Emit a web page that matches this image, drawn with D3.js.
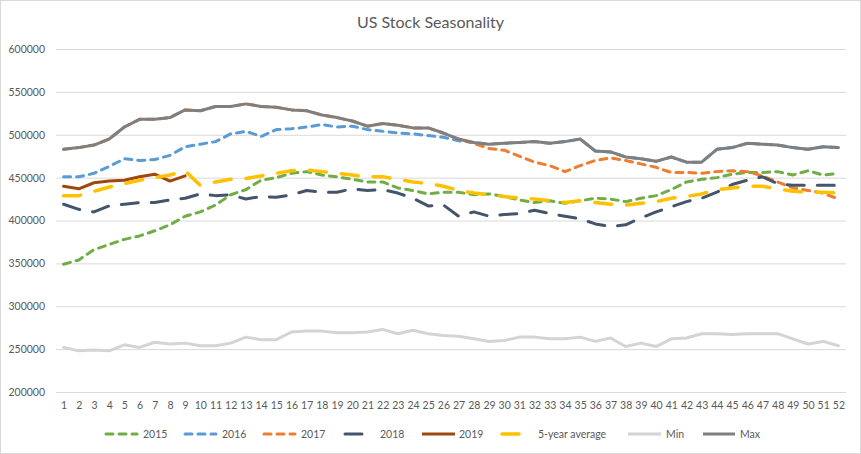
<!DOCTYPE html>
<html><head><meta charset="utf-8">
<script src="https://cdn.jsdelivr.net/npm/d3@7"></script>
<style>
html,body{margin:0;padding:0;background:#fff;}
svg{display:block;font-family:Lato,"Open Sans",sans-serif;}
</style></head>
<body>
<script>
const weeks = [1,2,3,4,5,6,7,8,9,10,11,12,13,14,15,16,17,18,19,20,21,22,23,24,25,26,27,28,29,30,31,32,33,34,35,36,37,38,39,40,41,42,43,44,45,46,47,48,49,50,51,52];
const yTicks = [200000,250000,300000,350000,400000,450000,500000,550000,600000];

const s2015 = [349000,354000,366000,372000,378000,382000,388000,395000,405000,410000,418000,430000,436000,447000,450000,455000,457000,453000,451000,448000,445000,445000,438000,435000,431000,433000,433000,430000,431000,428000,424000,421000,423000,420000,423000,426000,425000,422000,426000,429000,436000,445000,448000,450000,454000,456000,456000,457000,453000,458000,453000,455000];
const s2016 = [451000,451000,455000,463000,472000,470000,471000,476000,486000,489000,492000,501000,504000,498000,506000,507000,509000,512000,509000,510000,506000,504000,502000,501000,499000,497000,493000,491000,489000,490000,491000,492000,490000,492000,495000,481000,480000,474000,472000,469000,474000,468000,468000,483000,485000,490000,489000,488000,485000,483000,486000,485000];
const s2017 = [483000,485000,488000,495000,509000,518000,518000,520000,529000,528000,533000,533000,536000,533000,532000,529000,528000,523000,520000,516000,510000,513000,511000,508000,508000,502000,495000,490000,484000,482000,475000,468000,464000,457000,464000,470000,473000,470000,466000,462000,456000,456000,455000,457000,458000,457000,452000,445000,438000,435000,432000,425000];
const s2018 = [419000,413000,410000,417000,419000,421000,421000,424000,426000,431000,429000,430000,425000,428000,427000,430000,435000,433000,433000,437000,435000,436000,432000,426000,417000,418000,405000,410000,405000,407000,408000,412000,408000,405000,402000,396000,393000,395000,403000,410000,416000,422000,426000,433000,442000,447000,451000,443000,441000,441000,441000,441000];
const s2019 = [440000,437000,444000,446000,447000,451000,454000,446000,452000];
const sAvg = [429000,429000,434000,439000,443000,447000,450000,453000,458000,441000,445000,448000,449000,452000,455000,458000,459000,457000,455000,453000,451000,451000,448000,445000,443000,440000,435000,432000,430000,428000,426000,425000,423000,421000,423000,421000,419000,418000,420000,422000,426000,428000,431000,436000,438000,440000,440000,437000,434000,433000,433000,432000];
const sMin = [252000,248000,249000,248000,255000,252000,258000,256000,257000,254000,254000,257000,264000,261000,261000,270000,271000,271000,269000,269000,270000,273000,268000,272000,268000,266000,265000,262000,259000,260000,264000,264000,262000,262000,264000,259000,263000,253000,257000,253000,262000,263000,268000,268000,267000,268000,268000,268000,262000,256000,259000,254000];
const sMax = [483000,485000,488000,495000,509000,518000,518000,520000,529000,528000,533000,533000,536000,533000,532000,529000,528000,523000,520000,516000,510000,513000,511000,508000,508000,502000,495000,491000,489000,490000,491000,492000,490000,492000,495000,481000,480000,474000,472000,469000,474000,468000,468000,483000,485000,490000,489000,488000,485000,483000,486000,485000];

const seriesNames = ["2015","2016","2017","2018","2019","5-year average","Min","Max"];
const seriesValues = [s2015,s2016,s2017,s2018,s2019,sAvg,sMin,sMax];

const styles = {
  "2015": {color:"#70AD47", width:3, dash:"7,6"},
  "2016": {color:"#5B9BD5", width:3, dash:"7,6"},
  "2017": {color:"#ED7D31", width:3, dash:"7,6"},
  "2018": {color:"#44546A", width:3, dash:"17,13"},
  "2019": {color:"#9E480E", width:3, dash:null},
  "5-year average": {color:"#FFC000", width:3.5, dash:"17,15"},
  "Min": {color:"#D4D4D4", width:3, dash:null},
  "Max": {color:"#7F7F7F", width:3, dash:null}
};

const W = 861, H = 454;
const svg = d3.select("body").append("svg").attr("width", W).attr("height", H);
svg.append("rect").attr("x",0.5).attr("y",0.5).attr("width",W-1).attr("height",H-1)
  .attr("fill","#fff").attr("stroke","#D9D9D9");

const mLeft = 56, mRight = 846, mTop = 49, mBottom = 392;
const x = d3.scalePoint().domain(weeks).range([mLeft, mRight]).padding(0.5);
const y = d3.scaleLinear().domain([200000, 600000]).range([mBottom, mTop]);

svg.append("text").attr("x", 430.5).attr("y", 28).attr("text-anchor","middle")
  .attr("font-size","16px").attr("fill","#595959").text("US Stock Seasonality");

const yAxis = d3.axisLeft(y).tickValues(yTicks).tickSize(-(mRight-mLeft)).tickPadding(11).tickFormat(d3.format("d"));
const gy = svg.append("g").attr("transform",`translate(${mLeft},0)`).call(yAxis);
gy.select(".domain").remove();
gy.selectAll(".tick line").attr("stroke","#D9D9D9").attr("stroke-width",1);
gy.selectAll(".tick text").attr("fill","#595959").attr("font-size","10.5px").attr("font-family","Lato");

const xAxis = d3.axisBottom(x).tickSize(0).tickPadding(10);
const gx = svg.append("g").attr("transform",`translate(0,${mBottom})`).call(xAxis);
gx.select(".domain").remove();
gx.selectAll(".tick text").attr("fill","#595959").attr("font-size","10.5px").attr("font-family","Lato");

const line = d3.line().x((d,i)=>x(weeks[i])).y(d=>y(d));

seriesNames.forEach((name, k) => {
  const st = styles[name];
  svg.append("path").datum(seriesValues[k])
    .attr("d", line)
    .attr("fill","none")
    .attr("stroke", st.color)
    .attr("stroke-width", st.width)
    .attr("stroke-linejoin","round")
    .attr("stroke-linecap","round")
    .attr("stroke-dasharray", st.dash);
});

const legendItems = [
  {name:"2015", x0:106, x1:137, tx:143},
  {name:"2016", x0:185, x1:216, tx:222},
  {name:"2017", x0:264, x1:295, tx:301},
  {name:"2018", x0:345, x1:364, tx:380},
  {name:"2019", x0:422, x1:455, tx:459},
  {name:"5-year average", x0:502, x1:522, tx:538},
  {name:"Min", x0:628, x1:661, tx:666},
  {name:"Max", x0:703, x1:735, tx:740}
];
const ly = 434;
const lg = svg.append("g");
legendItems.forEach(it => {
  const st = styles[it.name];
  lg.append("line").attr("x1",it.x0).attr("x2",it.x1).attr("y1",ly).attr("y2",ly)
    .attr("stroke",st.color).attr("stroke-width",st.width)
    .attr("stroke-linecap", st.dash ? "round" : "butt")
    .attr("stroke-dasharray", st.dash);
  lg.append("text").attr("x",it.tx).attr("y",ly+4).attr("font-size","10.5px")
    .attr("fill","#595959").text(it.name);
});
</script>
</body></html>
